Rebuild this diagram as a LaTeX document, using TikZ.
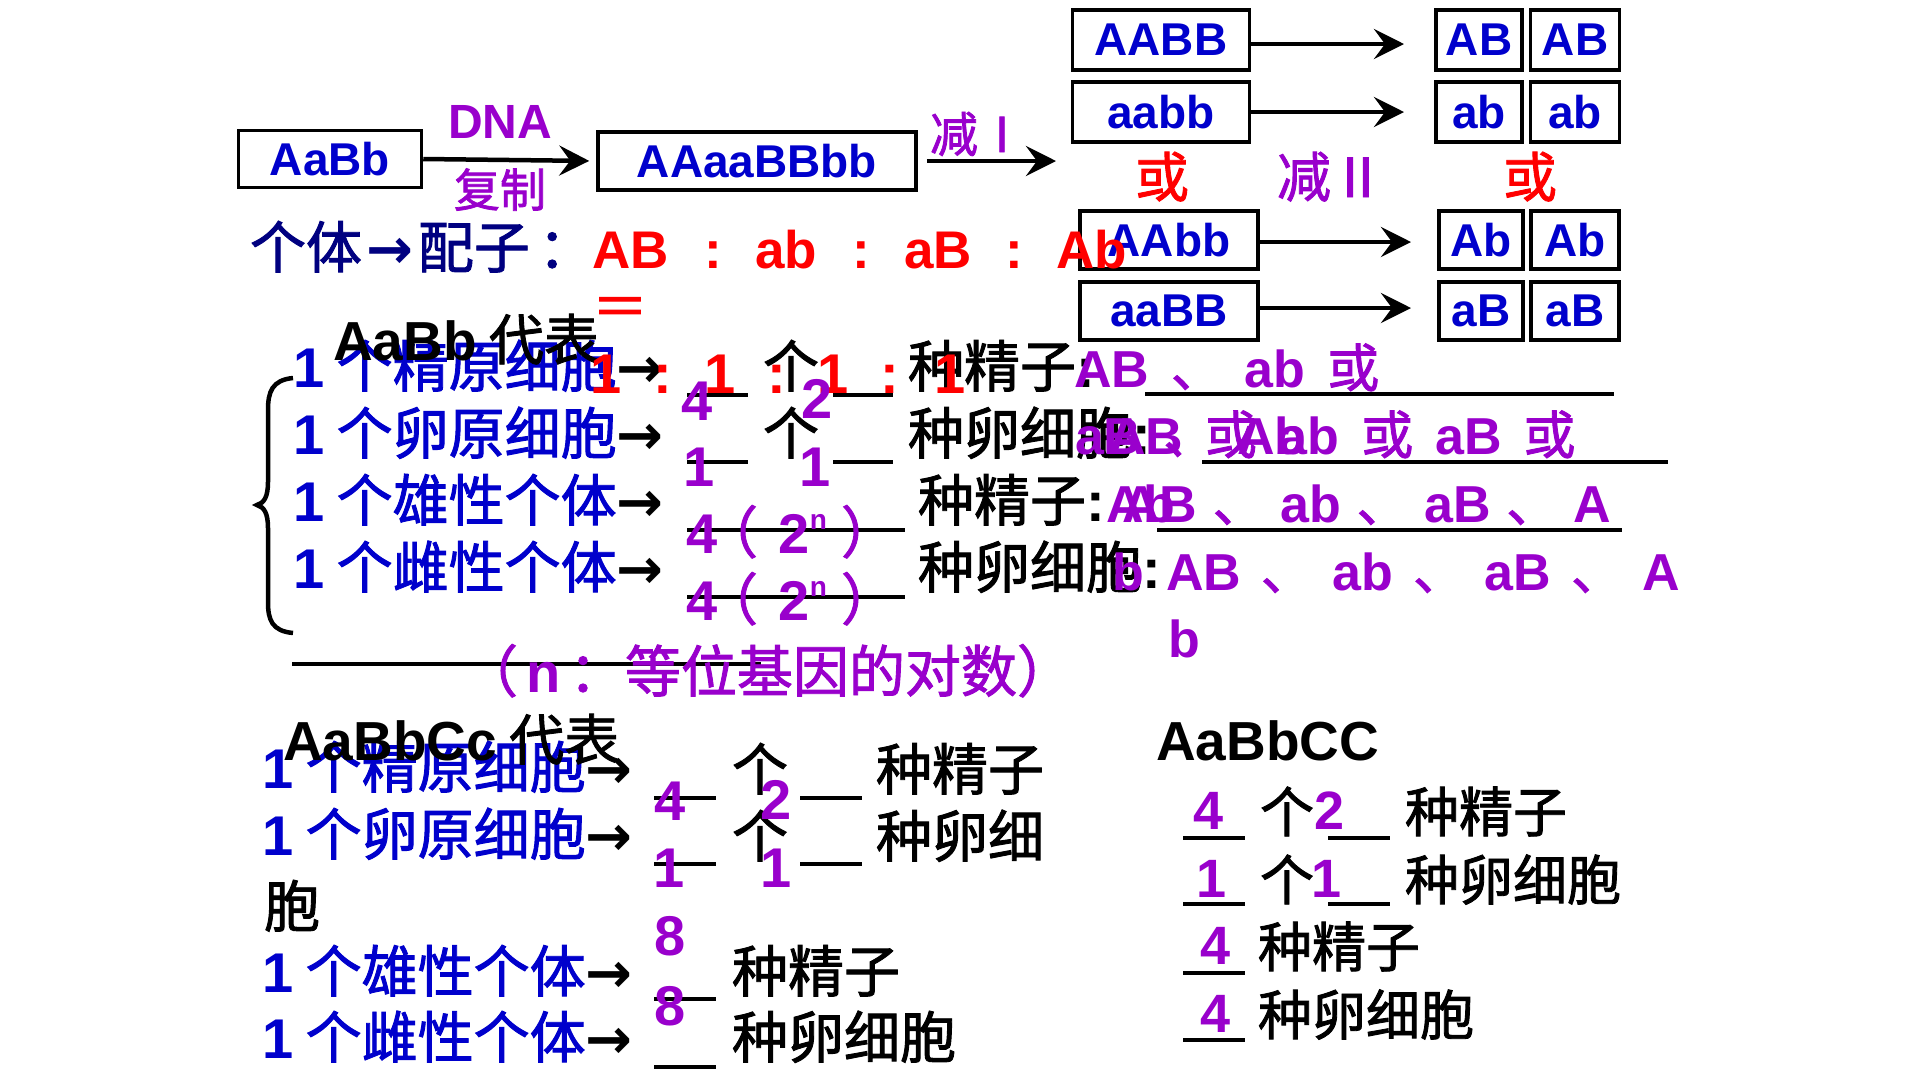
\documentclass[tikz,border=0pt]{standalone}
\usepackage{fontspec}
\setmainfont{Noto Sans CJK SC}[AutoFakeBold=1.6]
\newfontfamily\latf{Liberation Sans}
\newfontfamily\djvf{DejaVu Sans}
\usetikzlibrary{arrows.meta}
\definecolor{tblue}{HTML}{0000CC}
\definecolor{tpurp}{HTML}{9900CC}
\definecolor{tred}{HTML}{FF0000}
\definecolor{tnavy}{HTML}{000080}
\newcommand\myfs[1]{\fontsize{#1}{#1}\selectfont\bfseries}
\newcommand\myL[1]{{\latf\bfseries #1}}
\newcommand\myarr{{\djvf\bfseries →}}
\newcommand\mygap{\hspace{0.42em}}
\newcommand\mygapb{\hspace{0.3em}}
\newcommand\mygapc{\hspace{0.38em}}
\newcommand\supn{\raisebox{0.42em}{\fontsize{28}{28}\selectfont n}}
\newcommand\fourtwon{\myL{4}\hspace{-0.27em}（\hspace{0.37em}\myL{2\supn}\hspace{0.25em}）}
\begin{document}
\begin{tikzpicture}[x=1pt,y=-1pt,
  t/.style={anchor=base west, inner sep=0pt, outer sep=0pt},
  tc/.style={anchor=base, inner sep=0pt, outer sep=0pt},
  box/.style={draw, line width=3.5pt, inner sep=0pt, text=tblue, font={\latf\bfseries\myfs{46}}},
  arr/.style={line width=4.5pt, -{Stealth[length=30pt,width=30pt,inset=11pt]}},
  blank/.style={line width=4pt},
  ans/.style={t, text=tpurp}]
\fill[white] (0,0) rectangle (1920,1080);
\useasboundingbox (0,0) rectangle (1920,1080);

% ---------- top chain ----------
\node[box, minimum width=183pt, minimum height=57pt] (b0) at (330,159) {AaBb};
\node[box, minimum width=318pt, minimum height=58pt] (b1) at (757,161) {AAaaBBbb};
\coordinate (e1) at (1056,161);
\draw[arr, shorten >=7pt] (b0.east) -- (b1.west);
\draw[arr, shorten <=9pt] (b1.east) -- (e1);
\node[tc, text=tpurp] (dna) at (500,138) {\myfs{48}\myL{DNA}};
\node[tc, text=tpurp] (fz) at (500,207) {\myfs{46}复制};
\node[t, text=tpurp] (j1) at (930,152) {\myfs{48}减Ⅰ};

% ---------- right boxes ----------
\node[box, minimum width=177pt, minimum height=60pt] (r1) at (1161,40) {AABB};
\node[box, minimum width=177pt, minimum height=60pt] (r2) at (1161,112) {aabb};
\node[box, minimum width=178pt, minimum height=58pt] (r3) at (1169,240) {AAbb};
\node[box, minimum width=178pt, minimum height=58pt] (r4) at (1169,311) {aaBB};
\node[box, minimum width=86pt, minimum height=60pt] (g11) at (1479,40) {AB};
\node[box, minimum width=89pt, minimum height=60pt] (g12) at (1575,40) {AB};
\node[box, minimum width=86pt, minimum height=60pt] (g21) at (1479,112) {ab};
\node[box, minimum width=89pt, minimum height=60pt] (g22) at (1575,112) {ab};
\node[box, minimum width=84pt, minimum height=58pt] (g31) at (1481,240) {Ab};
\node[box, minimum width=88pt, minimum height=58pt] (g32) at (1575,240) {Ab};
\node[box, minimum width=84pt, minimum height=58pt] (g41) at (1481,311) {aB};
\node[box, minimum width=88pt, minimum height=58pt] (g42) at (1575,311) {aB};
\coordinate (t1) at (1404,44);
\coordinate (t2) at (1404,112);
\coordinate (t3) at (1411,242);
\coordinate (t4) at (1411,308);
\draw[arr] (r1.east |- t1) -- (t1);
\draw[arr] (r2.east |- t2) -- (t2);
\draw[arr] (r3.east |- t3) -- (t3);
\draw[arr] (r4.east |- t4) -- (t4);
\node[tc, text=tred] (or1) at (1162,197) {\myfs{54}或};
\node[tc, text=tpurp] (j2) at (1331,197) {\myfs{54}减Ⅱ};
\node[tc, text=tred] (or2) at (1530,197) {\myfs{54}或};

% ---------- gamete ratio row ----------
\node[t, text=tnavy] (gt) at (250,268) {\myfs{56}个体\hspace{0.08em}\myarr\hspace{0.08em}配子\hspace{0.15em}：};
\node[t, text=tred] (q1) at (592,268) {\myfs{53}\myL{AB}};
\node[tc, text=tred] (c1) at (713,268) {\myfs{53}\myL{:}};
\node[t, text=tred] (q2) at (755,268) {\myfs{53}\myL{ab}};
\node[tc, text=tred] (c2) at (861,268) {\myfs{53}\myL{:}};
\node[t, text=tred] (q3) at (904,268) {\myfs{53}\myL{aB}};
\node[tc, text=tred] (c3) at (1014,268) {\myfs{53}\myL{:}};
\node[t, text=tred] (q4) at (1056,268) {\myfs{53}\myL{Ab}};
\node[tc, text=tred] (eq) at (620,327) {\myfs{56}＝};

% ---------- block AaBb ----------
\node[t, text=tblue] (s1) at (293,387) {\myfs{56}\myL{1} 个精原细胞{\color{black}\myarr}};
\node[t, text=tblue] (s2) at (293,454) {\myfs{56}\myL{1} 个卵原细胞{\color{black}\myarr}};
\node[t, text=tblue] (s3) at (293,521) {\myfs{56}\myL{1} 个雄性个体{\color{black}\myarr}};
\node[t, text=tblue] (s4) at (293,588) {\myfs{56}\myL{1} 个雌性个体{\color{black}\myarr}};
\node[t] (h1) at (333,360) {\myfs{55}\myL{AaBb} 代表};
\draw[line width=4.5pt] (293,378) .. controls (272,380) and (268,392) .. (268,410) -- (268,482)
  .. controls (268,497) and (264,503) .. (257,505) .. controls (264,507) and (268,513) .. (268,528)
  -- (268,602) .. controls (268,620) and (272,631) .. (293,633);

\node[t] (k1) at (763,387) {\myfs{56}个};
\node[t] (k2) at (763,454) {\myfs{56}个};
\node[t] (z1) at (908,387) {\myfs{56}种精子\myL{:}};
\node[t] (z2) at (908,454) {\myfs{56}种卵细胞\myL{:}};
\node[t] (z3) at (918,521) {\myfs{56}种精子\myL{:}};
\node[t] (z4) at (918,588) {\myfs{56}种卵细胞\myL{:}};

\draw[blank] (687,395) -- (748,395);
\draw[blank] (833,395) -- (893,395);
\draw[blank] (687,462) -- (748,462);
\draw[blank] (833,462) -- (893,462);
\draw[blank] (687,530) -- (905,530);
\draw[blank] (687,597) -- (905,597);

\node[tc, text=tred] (n1) at (606,393) {\myfs{56}\myL{1}};
\node[tc, text=tred] (d1) at (663,393) {\myfs{56}\myL{:}};
\node[tc, text=tred] (n2) at (720,393) {\myfs{56}\myL{1}};
\node[tc, text=tred] (d2) at (777,393) {\myfs{56}\myL{:}};
\node[tc, text=tred] (n3) at (833,393) {\myfs{56}\myL{1}};
\node[tc, text=tred] (d3) at (890,393) {\myfs{56}\myL{:}};
\node[tc, text=tred] (n4) at (950,393) {\myfs{56}\myL{1}};

\node[tc, text=tpurp] (p1) at (697,420) {\myfs{56}\myL{4}};
\node[tc, text=tpurp] (p2) at (817,418) {\myfs{56}\myL{2}};
\node[tc, text=tpurp] (p3) at (699,486) {\myfs{56}\myL{1}};
\node[tc, text=tpurp] (p4) at (815,486) {\myfs{56}\myL{1}};
\node[ans] (p5) at (686,553) {\myfs{56}\fourtwon};
\node[ans] (p6) at (686,620) {\myfs{56}\fourtwon};

\draw[blank] (1145,394) -- (1614,394);
\draw[blank] (1202,462) -- (1668,462);
\draw[blank] (1157,530) -- (1622,530);
\node[ans] (a1) at (1074,387) {\myfs{52}\myL{AB}\mygap 、\mygap\myL{ab}\mygap 或};
\node[ans] (a2a) at (1075,454) {\myfs{52}\myL{aB}\mygap 、\mygap\myL{Ab}};
\node[ans] (a2b) at (1108,454) {\myfs{52}\myL{AB}\mygap 或\mygap\myL{ab}\mygap 或\mygap\myL{aB}\mygap 或};
\node[ans] (a3a) at (1106,522) {\myfs{52}\myL{Ab}};
\node[ans] (a3b) at (1122,522) {\myfs{52}\myL{AB}\mygapb 、\mygapb\myL{ab}\mygapb 、\mygapb\myL{aB}\mygapb 、\mygapb\myL{A}};
\node[ans] (a4a) at (1112,590) {\myfs{52}\myL{b}};
\node[ans] (a4b) at (1166,590) {\myfs{52}\myL{AB}\mygapc 、\mygapc\myL{ab}\mygapc 、\mygapc\myL{aB}\mygapc 、\mygapc\myL{A}};
\node[ans] (a5) at (1168,657) {\myfs{52}\myL{b}};

\draw[blank] (292,664) -- (761,664);
\node[ans] (nn) at (462,692) {\myfs{56}（\hspace{0.15em}\myL{n}\hspace{0.15em}：等位基因的对数）};

% ---------- block AaBbCc ----------
\node[t, text=tblue] (u1) at (262,788) {\myfs{56}\myL{1} 个精原细胞{\color{black}\myarr}};
\node[t, text=tblue] (u2) at (262,855) {\myfs{56}\myL{1} 个卵原细胞{\color{black}\myarr}};
\node[t, text=tblue] (u3) at (262,992) {\myfs{56}\myL{1} 个雄性个体{\color{black}\myarr}};
\node[t, text=tblue] (u4) at (262,1058) {\myfs{56}\myL{1} 个雌性个体{\color{black}\myarr}};
\node[t] (h2) at (283,760) {\myfs{55}\myL{AaBbCc} 代表};
\node[t] (v1) at (732,790) {\myfs{56}个};
\node[t] (v2) at (732,857) {\myfs{56}个};
\node[t] (w1) at (876,790) {\myfs{56}种精子};
\node[t] (w2) at (876,857) {\myfs{56}种卵细};
\node[t] (w2b) at (264,927) {\myfs{56}胞};
\node[t] (w3) at (732,992) {\myfs{56}种精子};
\node[t] (w4) at (732,1058) {\myfs{56}种卵细胞};
\draw[blank] (654,798) -- (716,798);
\draw[blank] (800,798) -- (862,798);
\draw[blank] (654,864) -- (716,864);
\draw[blank] (800,864) -- (862,864);
\draw[blank] (654,999) -- (716,999);
\draw[blank] (654,1067) -- (716,1067);
\node[tc, text=tpurp] (m1) at (670,820) {\myfs{56}\myL{4}};
\node[tc, text=tpurp] (m2) at (776,819) {\myfs{56}\myL{2}};
\node[tc, text=tpurp] (m3) at (669,887) {\myfs{56}\myL{1}};
\node[tc, text=tpurp] (m4) at (776,887) {\myfs{56}\myL{1}};
\node[tc, text=tpurp] (m5) at (670,955) {\myfs{56}\myL{8}};
\node[tc, text=tpurp] (m6) at (670,1025) {\myfs{56}\myL{8}};

% ---------- block AaBbCC ----------
\node[t] (h3) at (1156,760) {\myfs{55}\myL{AaBbCC}};
\draw[blank] (1183,838) -- (1245,838);
\draw[blank] (1328,838) -- (1390,838);
\draw[blank] (1183,904) -- (1245,904);
\draw[blank] (1328,904) -- (1390,904);
\draw[blank] (1183,973) -- (1245,973);
\draw[blank] (1183,1040) -- (1245,1040);
\node[tc, text=tpurp] (x1) at (1209,829) {\myfs{54}\myL{4}};
\node[t] (y1) at (1260,832) {\myfs{54}个};
\node[tc, text=tpurp] (x2) at (1330,829) {\myfs{54}\myL{2}};
\node[t] (y2) at (1405,832) {\myfs{54}种精子};
\node[tc, text=tpurp] (x3) at (1212,897) {\myfs{54}\myL{1}};
\node[t] (y3) at (1260,900) {\myfs{54}个};
\node[tc, text=tpurp] (x4) at (1327,897) {\myfs{54}\myL{1}};
\node[t] (y4) at (1405,900) {\myfs{54}种卵细胞};
\node[tc, text=tpurp] (x5) at (1216,964) {\myfs{54}\myL{4}};
\node[t] (y5) at (1258,967) {\myfs{54}种精子};
\node[tc, text=tpurp] (x6) at (1216,1032) {\myfs{54}\myL{4}};
\node[t] (y6) at (1258,1035) {\myfs{54}种卵细胞};
\end{tikzpicture}
\end{document}
